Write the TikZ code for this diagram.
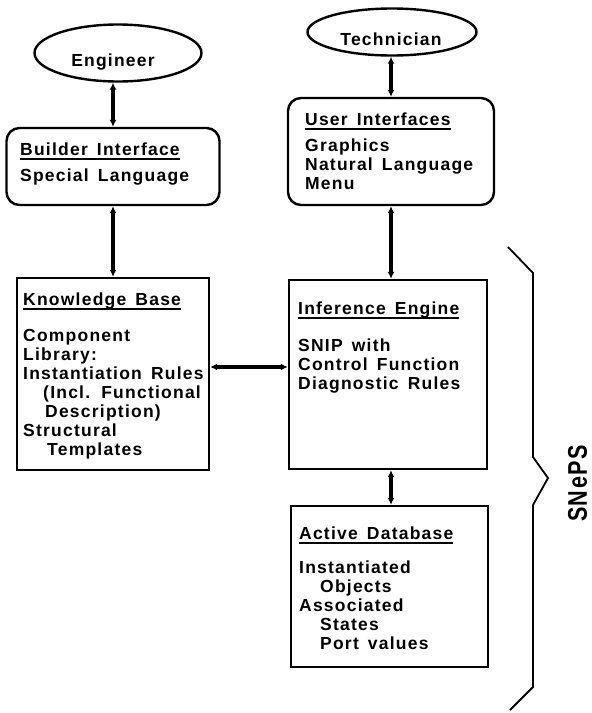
\documentclass[tikz,border=0pt]{standalone}
\usepackage{fontspec}
\setmainfont{Liberation Sans Bold}[LetterSpace=7,WordSpace=1.5]
\usetikzlibrary{shapes.geometric,arrows.meta}

% heading with a thick rule under it
\newcommand\hdline[1]{\setbox0\hbox{#1}\rlap{\rule[-4.5pt]{\wd0}{2pt}}\box0}

\tikzset{
  txt/.style={font=\fontsize{17.5}{19}\selectfont, inner sep=0pt, align=left, anchor=north west},
  blk/.style={draw, line width=2.4pt, inner sep=0pt},
  rblk/.style={blk, rounded corners=13pt},
  user/.style={draw, ellipse, line width=2.4pt, inner sep=0pt},
  link/.style={line width=3.2pt, {Latex[length=7pt,width=7pt]}-{Latex[length=7pt,width=7pt]}},
}

\begin{document}
\begin{tikzpicture}[x=1pt,y=-1pt]
    \useasboundingbox (0,0) rectangle (592,713);
    \def\xl{113}
    \def\xr{391}

% users
    \node[user, minimum width=167pt, minimum height=57pt] (eng) at (118,53) {};
    \node[txt, anchor=base] (engtxt) at (\xl,66) {Engineer};
    \node[user, minimum width=169pt, minimum height=47pt] (tech) at (392,32) {};
    \node[txt, anchor=base] (techtxt) at (\xr,45) {Technician};

% interfaces
    \node[rblk, minimum width=213pt, minimum height=77pt] (bi) at (\xl,166.5) {};
    \node[txt] (bitxt) at (20,143) {\hdline{Builder Interface}\\[7pt] Special Language};

    \node[rblk, minimum width=206pt, minimum height=107pt] (ui) at (\xr,151.5) {};
    \node[txt] (uitxt) at (305,113) {\hdline{User Interfaces}\\[7pt] Graphics\\ Natural Language\\ Menu};

% knowledge base and engine
    \node[blk, minimum width=192pt, minimum height=192pt] (kb) at (\xl,374) {};
    \node[txt] (kbtxt) at (23,293) {\hdline{Knowledge Base}\\[17pt] Component\\ Library:\\ Instantiation Rules\\
        \hspace*{20pt}(Incl. Functional\\ \hspace*{22pt}Description)\\ Structural\\ \hspace*{24pt}Templates};

    \node[blk, minimum width=198pt, minimum height=189pt] (ie) at (388,374.5) {};
    \node[txt] (ietxt) at (298,302) {\hdline{Inference Engine}\\[18pt] SNIP with\\ Control Function\\ Diagnostic Rules};

% database
    \node[blk, minimum width=197pt, minimum height=161pt] (ad) at (389.5,586.5) {};
    \node[txt] (adtxt) at (299,527) {\hdline{Active Database}\\[15pt] Instantiated\\ \hspace*{21pt}Objects\\ Associated\\
        \hspace*{21pt}States\\ \hspace*{21pt}Port values};

% links
    \coordinate (kbie) at (250,367);
    \draw[link] (bi.north |- eng.south) -- (bi.north);
    \draw[link] (bi.south) -- (kb.north);
    \draw[link] (ui.north |- tech.south) -- (ui.north);
    \draw[link] (ui.south) -- (ui.south |- ie.north);
    \draw[link] (ie.south -| \xr,0) -- (ad.north -| \xr,0);
    \draw[link] (kb.east |- kbie) -- (ie.west |- kbie);

% brace
    \draw[line width=1.8pt] (508,247) -- (533,273) -- (533,457) -- (548,478) -- (533,505) -- (533,687) -- (510,710);
    \node[font=\fontsize{27}{30}\selectfont, inner sep=0pt, rotate=90] (sneps) at (577.5,483.5) {\scalebox{0.8}[1]{SNePS}};

\end{tikzpicture}
\end{document}
